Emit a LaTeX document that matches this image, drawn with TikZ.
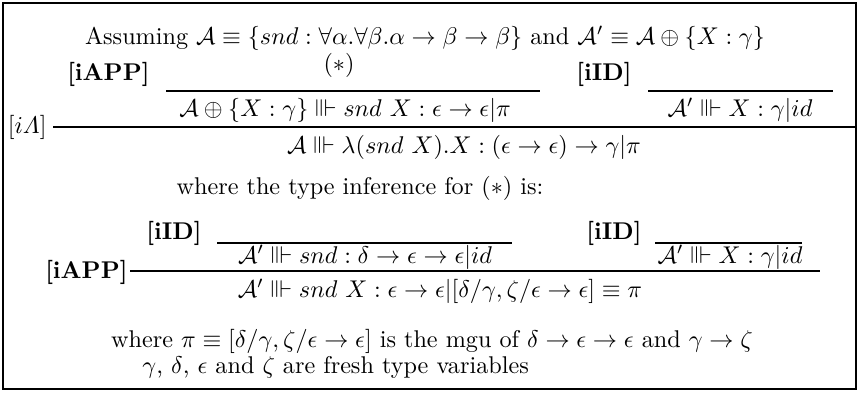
\documentclass[tikz,border=0pt]{standalone}
\usepackage{amsmath,amssymb}

\newcommand{\infers}{\mathrel{\Vvdash}}
\tikzset{
  infrule/.style={line width=0.95pt},
  judg/.style={anchor=base, inner sep=0pt},
  rname/.style={anchor=base east, inner sep=0pt},
  prose/.style={anchor=base west, inner sep=0pt},
}

\begin{document}
\begin{tikzpicture}[x=0.4132pt, y=-0.4132pt, line cap=butt]

  %% ════ 外框 ════
  \draw[line width=1.1pt] (3,3) rectangle (856,389);

  %% ════ 假设 ════
  \node[judg] (assume) at (425,44) {Assuming $\mathcal{A}\equiv\{snd:\forall\alpha.\forall\beta.\alpha\to\beta\to\beta\}$ and $\mathcal{A}'\equiv\mathcal{A}\oplus\{X:\gamma\}$};

  %% ════ 第一棵推导树 ════
  \coordinate (r1a) at (166,91);
  \coordinate (r1b) at (540,91);
  \coordinate (r2a) at (648,91);
  \coordinate (r2b) at (833,91);
  \coordinate (r3a) at (53,127);
  \coordinate (r3b) at (855,127);
  \draw[infrule] (r1a) -- (r1b);
  \draw[infrule] (r2a) -- (r2b);
  \draw[infrule] (r3a) -- (r3b);

  \node[judg] (star) at (339,71) {$(*)$};
  \node[rname] (app1) at (150,80) {\textbf{[iAPP]}};
  \node[judg] (cApp1) at (345,116) {$\mathcal{A}\oplus\{X:\gamma\}\infers snd\ X:\epsilon\to\epsilon|\pi$};
  \node[rname] (id1) at (632,80) {\textbf{[iID]}};
  \node[judg] (cId1) at (740,116) {$\mathcal{A}'\infers X:\gamma|id$};
  \node[rname] (lam) at (47,133) {$[i\varLambda]$};
  \node[judg] (cLam) at (464,153) {$\mathcal{A}\infers\lambda(snd\ X).X:(\epsilon\to\epsilon)\to\gamma|\pi$};

  \node[judg] (where1) at (360,194) {where the type inference for $(*)$ is:};

  %% ════ 第二棵推导树 (*) ════
  \coordinate (r4a) at (217,243);
  \coordinate (r4b) at (512,243);
  \coordinate (r5a) at (655,243);
  \coordinate (r5b) at (802,243);
  \coordinate (r6a) at (130,271);
  \coordinate (r6b) at (820,271);
  \draw[infrule] (r4a) -- (r4b);
  \draw[infrule] (r5a) -- (r5b);
  \draw[infrule] (r6a) -- (r6b);

  \node[rname] (id2) at (202,239) {\textbf{[iID]}};
  \node[judg] (cId2) at (365,263) {$\mathcal{A}'\infers snd:\delta\to\epsilon\to\epsilon|id$};
  \node[rname] (id3) at (642,239) {\textbf{[iID]}};
  \node[judg] (cId3) at (730,263) {$\mathcal{A}'\infers X:\gamma|id$};
  \node[rname] (app2) at (128,278) {\textbf{[iAPP]}};
  \node[judg] (cApp2) at (440,297) {$\mathcal{A}'\infers snd\ X:\epsilon\to\epsilon|[\delta/\gamma,\zeta/\epsilon\to\epsilon]\equiv\pi$};

  %% ════ 说明 ════
  \node[judg] (mgu) at (432,347) {where $\pi\equiv[\delta/\gamma,\zeta/\epsilon\to\epsilon]$ is the mgu of $\delta\to\epsilon\to\epsilon$ and $\gamma\to\zeta$};
  \node[prose] (fresh) at (142,373) {$\gamma$, $\delta$, $\epsilon$ and $\zeta$ are fresh type variables};

  % 钉死画布
  \pgfresetboundingbox
  \path[use as bounding box] (0,0) rectangle (859,392);
\end{tikzpicture}
\end{document}
